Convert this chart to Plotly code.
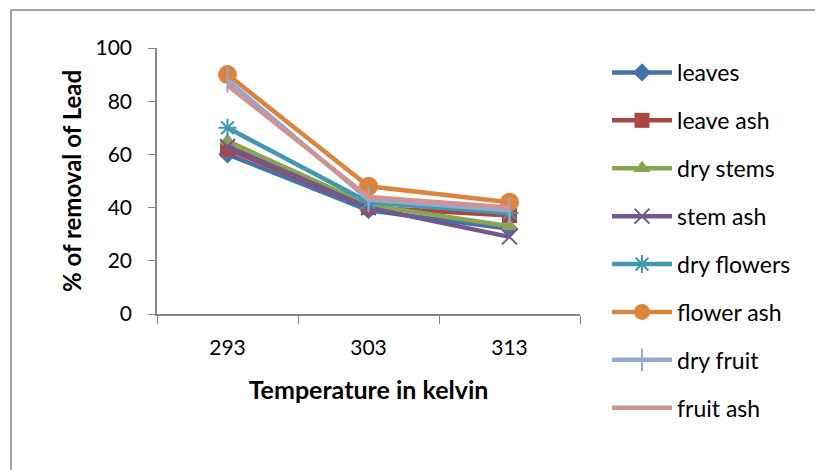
import plotly.graph_objects as go

categories = ["293", "303", "313"]
series_names = ["leaves", "leave ash", "dry stems", "stem ash", "dry flowers", "flower ash", "dry fruit", "fruit ash"]
leaves = [60, 39, 32]
leave_ash = [62, 40, 37]
dry_stems = [65, 41, 33]
stem_ash = [63, 40, 29]
dry_flowers = [70, 42, 38]
flower_ash = [90, 48, 42]
dry_fruit = [88, 43, 39]
fruit_ash = [86, 44, 40]
values = [leaves, leave_ash, dry_stems, stem_ash, dry_flowers, flower_ash, dry_fruit, fruit_ash]

colors = ["#4572A7", "#AA4643", "#89A54E", "#71588F", "#4198AF", "#DB843D", "#93A9CF", "#D19392"]
symbols = ["diamond", "square", "triangle-up", "x-thin", "asterisk", "circle", "line-ns", "circle"]
sizes = [14, 15, 15, 15, 15, 19, 18, 0]

W, H = 815, 470
L, R, T, B = 157, 235, 48, 156
pw, ph = W - L - R, H - T - B

fig = go.Figure()
for i, (name, vals) in enumerate(zip(series_names, values)):
    sym = symbols[i]
    open_sym = sym in ("x-thin", "asterisk", "line-ns")
    fig.add_trace(go.Scatter(
        x=categories, y=vals, name=name, mode="lines+markers" if sizes[i] else "lines",
        line=dict(color=colors[i], width=4.5),
        marker=dict(symbol=sym, size=sizes[i], color=colors[i],
                    line=dict(color=colors[i], width=2 if open_sym else 0)),
        legendgroup=name,
    ))

font_body = "Lato, Open Sans, sans-serif"
fig.update_layout(
    width=W, height=H,
    margin=dict(l=L, r=R, t=T, b=B),
    paper_bgcolor="white", plot_bgcolor="white",
    showlegend=True,
    legend=dict(xref="container", yref="container", x=607 / W, y=1 - 51 / H,
                xanchor="left", yanchor="top", maxheight=1,
                font=dict(family=font_body, size=23, color="black"),
                tracegroupgap=15, itemwidth=60, bgcolor="rgba(0,0,0,0)"),
    xaxis=dict(type="category", range=[-0.5, 2.5], showgrid=False, showline=True,
               linecolor="#868686", linewidth=1.5, ticks="outside", ticklen=8, tickcolor="#868686",
               tickson="boundaries", ticklabelstandoff=14,
               tickfont=dict(family=font_body, size=21, color="black"),
               title=dict(text="<b>Temperature in kelvin</b>", font=dict(family=font_body, size=25, color="black"), standoff=24)),
    yaxis=dict(range=[0, 100], dtick=20, showgrid=False, showline=True, zeroline=False,
               linecolor="#868686", linewidth=1.5, ticks="outside", ticklen=7, tickcolor="#868686",
               ticklabelstandoff=12,
               tickfont=dict(family=font_body, size=21, color="black"),
               title=dict(text="<b>% of removal of Lead</b>", font=dict(family=font_body, size=24, color="black"), standoff=7)),
    shapes=[dict(type="rect", xref="paper", yref="paper",
                 x0=(11 - L) / pw, x1=(W + 10 - L) / pw,
                 y0=-(H + 10 - T - ph) / ph, y1=1 + (T - 10) / ph,
                 line=dict(color="#868686", width=1.5), fillcolor="rgba(0,0,0,0)", layer="below")],
)
fig.write_html("out.html")
